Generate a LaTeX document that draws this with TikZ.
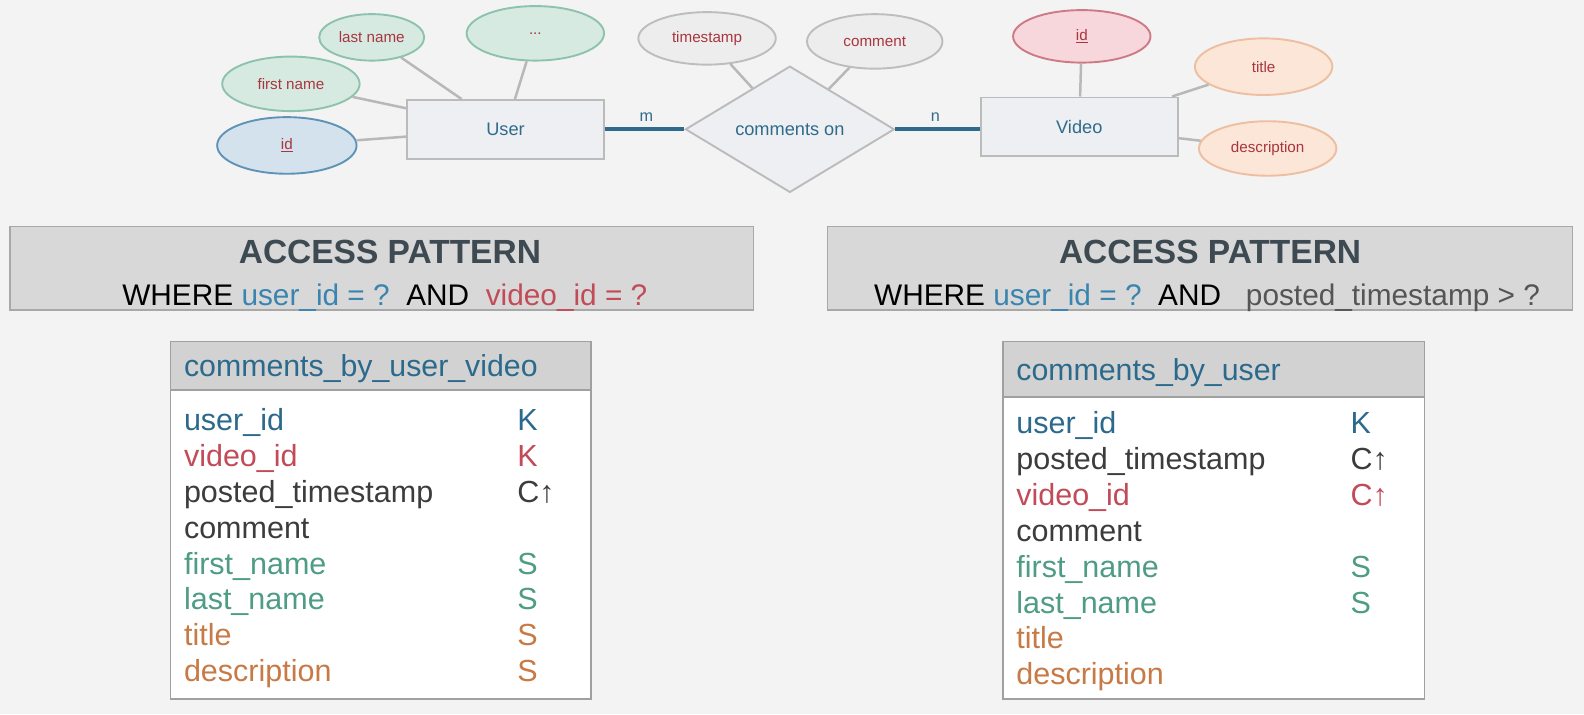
\documentclass[tikz,border=0pt]{standalone}
\usepackage{fontspec}
\setmainfont{Liberation Sans}
\usetikzlibrary{shapes.geometric}
\definecolor{bg}{HTML}{F3F3F3}
\definecolor{gfill}{HTML}{D6EAE2}\definecolor{gdraw}{HTML}{8DC3AE}
\definecolor{bfill}{HTML}{D4E2EE}\definecolor{bdraw}{HTML}{5F93B6}
\definecolor{kfill}{HTML}{EDEDED}\definecolor{kdraw}{HTML}{BDBDBD}
\definecolor{rfill}{HTML}{F7D7DC}\definecolor{rdraw}{HTML}{CD7A86}
\definecolor{ofill}{HTML}{FCE6D8}\definecolor{odraw}{HTML}{EDBE9F}
\definecolor{efill}{HTML}{EEEFF2}\definecolor{edraw}{HTML}{BBBBBB}
\definecolor{enttext}{HTML}{2F6B8A}
\definecolor{attrtext}{HTML}{A9363F}
\definecolor{rel}{HTML}{2F6A8C}
\definecolor{conn}{HTML}{B8B8B8}
\definecolor{apfill}{HTML}{D8D8D8}\definecolor{apdraw}{HTML}{A8A8A8}
\definecolor{aptitle}{HTML}{3E4A52}
\definecolor{ublue}{HTML}{2B6A8C}
\definecolor{ubluel}{HTML}{3A85B0}
\definecolor{vred}{HTML}{C24B58}
\definecolor{dgray}{HTML}{3C3C3C}
\definecolor{mgray}{HTML}{555555}
\definecolor{grn}{HTML}{4E9C85}
\definecolor{org}{HTML}{C77A45}
\definecolor{thfill}{HTML}{D2D2D2}\definecolor{tdraw}{HTML}{A0A0A0}
\newcommand{\fsz}[1]{\fontsize{#1}{#1}\selectfont}
\begin{document}
\begin{tikzpicture}[x=1.0101pt,y=-1.0101pt,
  attr/.style={ellipse,inner sep=0pt,line width=1.9pt,text=attrtext,font=\fsz{15.2}},
  attrG/.style={attr,fill=gfill,draw=gdraw},
  attrB/.style={attr,fill=bfill,draw=bdraw},
  attrK/.style={attr,fill=kfill,draw=kdraw},
  attrR/.style={attr,fill=rfill,draw=rdraw},
  attrO/.style={attr,fill=ofill,draw=odraw},
  entity/.style={rectangle,inner sep=0pt,fill=efill,draw=edraw,line width=1.9pt,text=enttext,font=\fsz{18.2}},
  relship/.style={diamond,inner sep=0pt,fill=efill,draw=edraw,line width=1.9pt,text=enttext,font=\fsz{18.2}},
  connline/.style={draw=conn,line width=2.5pt},
  relline/.style={draw=rel,line width=3.6pt},
  card/.style={text=enttext,font=\fsz{16.2},inner sep=0pt},
  apbox/.style={rectangle,fill=apfill,draw=apdraw,line width=1.3pt,inner sep=0pt},
  aptitlestyle/.style={anchor=base,inner sep=0pt,text=aptitle,font=\fsz{33.5}\bfseries},
  apwhere/.style={anchor=base,inner sep=0pt,text=black,font=\fsz{29.8}},
  tframe/.style={draw=tdraw,line width=1.3pt},
  thead/.style={anchor=base west,inner sep=0pt,text=ublue,font=\fsz{30.3}},
  trow/.style={anchor=base west,inner sep=0pt,font=\fsz{30.5}}
]
\useasboundingbox[fill=bg] (0,0) rectangle (1568.2,706.9);

% ---------- ER diagram ----------
\node[entity,minimum width=197pt,minimum height=58.6pt] (user) at (500.5,128) {User};
\node[attrG,minimum width=105pt,minimum height=46.5pt] (lname) at (368,37) {last name};
\node[attrG,minimum width=137.4pt,minimum height=54.5pt] (dots) at (530,33) {...};
\node[attrG,minimum width=137.4pt,minimum height=54.5pt] (fname) at (288,83) {first name};
\node[attrB,minimum width=139.4pt,minimum height=56.6pt] (uid) at (284,144) {\underline{id}};

\node[relship,minimum width=209pt,minimum height=126.3pt] (comm) at (782,128) {comments on};
\node[attrK,minimum width=137.4pt,minimum height=52.5pt] (tstamp) at (700,38) {timestamp};
\node[attrK,minimum width=135.4pt,minimum height=54.5pt] (cmt) at (866,41) {comment};

\node[entity,minimum width=197pt,minimum height=58.6pt] (video) at (1068.5,125.5) {Video};
\node[attrR,minimum width=137.4pt,minimum height=52.5pt] (vid) at (1071,36) {\underline{id}};
\node[attrO,minimum width=137.4pt,minimum height=56.6pt] (title) at (1251,66) {title};
\node[attrO,minimum width=137.4pt,minimum height=54.5pt] (desc) at (1255,147) {description};

\draw[connline] (lname) -- (user);
\draw[connline] (dots) -- (user);
\draw[connline] (fname) -- (user);
\draw[connline] (uid) -- (user);
\draw[connline] (tstamp) -- (comm);
\draw[connline] (cmt) -- (comm);
\draw[connline] (vid) -- (video);
\draw[connline] (title) -- (video);
\draw[connline] (desc) -- (video);

\draw[relline] (user.east |- comm.west) -- (comm.west);
\draw[relline] (comm.east) -- (comm.east -| video.west);
\node[card] (mlab) at (640,116) {m};
\node[card] (nlab) at (926,116) {n};

% ---------- Access pattern boxes ----------
\node[apbox,minimum width=743.4pt,minimum height=83.8pt] (apL) at (378,265.5) {};
\node[aptitlestyle] (apLt) at (386,261) {ACCESS PATTERN};
\node[apwhere] (apLw) at (381,302) {WHERE \textcolor{ubluel}{user\_id = ?}\ \ AND\ \ \textcolor{vred}{video\_id = ?}};

\node[apbox,minimum width=745.5pt,minimum height=83.8pt] (apR) at (1188,265.5) {};
\node[aptitlestyle] (apRt) at (1198,261) {ACCESS PATTERN};
\node[apwhere] (apRw) at (1195,302) {WHERE \textcolor{ubluel}{user\_id = ?}\ \ AND\ \ \ \textcolor{mgray}{posted\_timestamp > ?}};

% ---------- Left table ----------
\fill[white] (169,386) rectangle (585,692);
\fill[thfill] (169,338) rectangle (585,386);
\draw[tframe] (169,338) rectangle (585,692);
\draw[tframe] (169,386) -- (585,386);
\node[thead] (lth) at (182,373) {comments\_by\_user\_video};
\node[trow,text=ublue] (l1) at (182,426) {user\_id};
\node[trow,text=vred] (l2) at (182,461.6) {video\_id};
\node[trow,text=dgray] (l3) at (182,497.1) {posted\_timestamp};
\node[trow,text=dgray] (l4) at (182,532.7) {comment};
\node[trow,text=grn] (l5) at (182,568.3) {first\_name};
\node[trow,text=grn] (l6) at (182,603.9) {last\_name};
\node[trow,text=org] (l7) at (182,639.4) {title};
\node[trow,text=org] (l8) at (182,675) {description};
\node[trow,text=ublue] (lk1) at (512,426) {K};
\node[trow,text=vred] (lk2) at (512,461.6) {K};
\node[trow,text=dgray] (lk3) at (512,497.1) {C↑};
\node[trow,text=grn] (lk5) at (512,568.3) {S};
\node[trow,text=grn] (lk6) at (512,603.9) {S};
\node[trow,text=org] (lk7) at (512,639.4) {S};
\node[trow,text=org] (lk8) at (512,675) {S};

% ---------- Right table ----------
\fill[white] (993,393) rectangle (1410,692);
\fill[thfill] (993,338) rectangle (1410,393);
\draw[tframe] (993,338) rectangle (1410,692);
\draw[tframe] (993,393) -- (1410,393);
\node[thead] (rth) at (1006,377) {comments\_by\_user};
\node[trow,text=ublue] (r1) at (1006,429) {user\_id};
\node[trow,text=dgray] (r2) at (1006,464.6) {posted\_timestamp};
\node[trow,text=vred] (r3) at (1006,500.1) {video\_id};
\node[trow,text=dgray] (r4) at (1006,535.7) {comment};
\node[trow,text=grn] (r5) at (1006,571.3) {first\_name};
\node[trow,text=grn] (r6) at (1006,606.9) {last\_name};
\node[trow,text=org] (r7) at (1006,642.4) {title};
\node[trow,text=org] (r8) at (1006,678) {description};
\node[trow,text=ublue] (rk1) at (1337,429) {K};
\node[trow,text=dgray] (rk2) at (1337,464.6) {C↑};
\node[trow,text=vred] (rk3) at (1337,500.1) {C↑};
\node[trow,text=grn] (rk5) at (1337,571.3) {S};
\node[trow,text=grn] (rk6) at (1337,606.9) {S};
\end{tikzpicture}
\end{document}
